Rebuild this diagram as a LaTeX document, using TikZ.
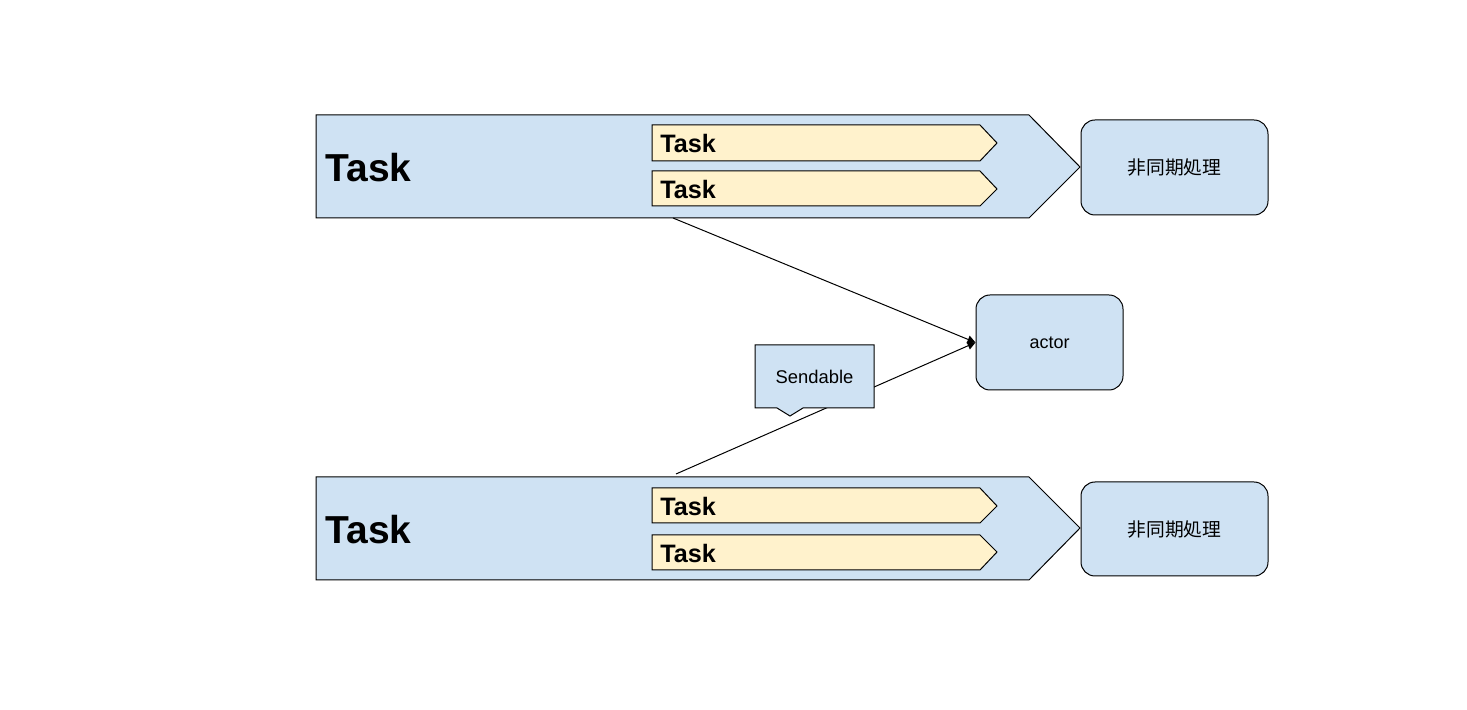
\documentclass[tikz,border=0pt]{standalone}
\usepackage{fontspec}
\setmainfont{Liberation Sans}
\newfontfamily\cjk{Noto Sans CJK JP}
\usetikzlibrary{arrows.meta}

\definecolor{taskblue}{HTML}{CFE2F3}
\definecolor{taskyellow}{HTML}{FFF2CC}

\tikzset{
  bigtask/.style={fill=taskblue, draw=black, line width=0.5pt},
  subtask/.style={fill=taskyellow, draw=black, line width=0.5pt},
  procbox/.style={fill=taskblue, draw=black, line width=0.5pt, rounded corners=7pt},
  link/.style={draw=black, line width=0.5pt, -{Triangle[length=4pt,width=4pt]}},
  biglabel/.style={anchor=west, inner sep=0pt, font=\fontsize{19.5}{21}\bfseries\selectfont},
  sublabel/.style={anchor=west, inner sep=0pt, font=\fontsize{12.6}{14}\bfseries\selectfont}
}

\begin{document}
\begin{tikzpicture}[x=0.5pt,y=-0.5pt]
  \useasboundingbox (0,0) rectangle (1467,710);

  % upper task
  \path[bigtask] (316,115) -- (1029,115) -- (1080,167) -- (1029,218) -- (316,218) -- cycle;
  \path[subtask] (652,125) -- (980,125) -- (997,143) -- (980,161) -- (652,161) -- cycle;
  \path[subtask] (652,171) -- (980,171) -- (997,189) -- (980,206) -- (652,206) -- cycle;
  \node[biglabel] (taskA) at (325,168) {Task};
  \node[sublabel] (taskA1) at (660,143) {Task};
  \node[sublabel] (taskA2) at (660,189) {Task};
  \coordinate (taskAout) at (673,218);

  % lower task
  \path[bigtask] (316,477) -- (1029,477) -- (1080,528) -- (1029,580) -- (316,580) -- cycle;
  \path[subtask] (652,488) -- (980,488) -- (997,506) -- (980,523) -- (652,523) -- cycle;
  \path[subtask] (652,535) -- (980,535) -- (997,552) -- (980,570) -- (652,570) -- cycle;
  \node[biglabel] (taskB) at (325,530) {Task};
  \node[sublabel] (taskB1) at (660,506) {Task};
  \node[sublabel] (taskB2) at (660,553) {Task};
  \coordinate (taskBout) at (676,474);

  % async boxes
  \path[procbox] (1081,120) rectangle (1268,215);
  \node[font=\cjk\fontsize{9.4}{11}\selectfont] (asyncA) at (1174.5,167.5) {非同期処理};
  \path[procbox] (1081,482) rectangle (1268,576);
  \node[font=\cjk\fontsize{9.4}{11}\selectfont] (asyncB) at (1174.5,529) {非同期処理};

  % actor
  \node[procbox, minimum width=73.5pt, minimum height=47.5pt, font=\fontsize{9}{11}\selectfont] (actor) at (1049.5,342.5) {actor};

  % links
  \draw[link] (taskAout) -- (actor.west);
  \draw[link] (taskBout) -- (actor.west);

  % sendable callout
  \path[bigtask] (755,345) -- (874,345) -- (874,408) -- (803,408) -- (790,416) -- (777,408) -- (755,408) -- cycle;
  \node[font=\fontsize{9.2}{11}\selectfont] (sendable) at (814.5,377) {Sendable};
\end{tikzpicture}
\end{document}
